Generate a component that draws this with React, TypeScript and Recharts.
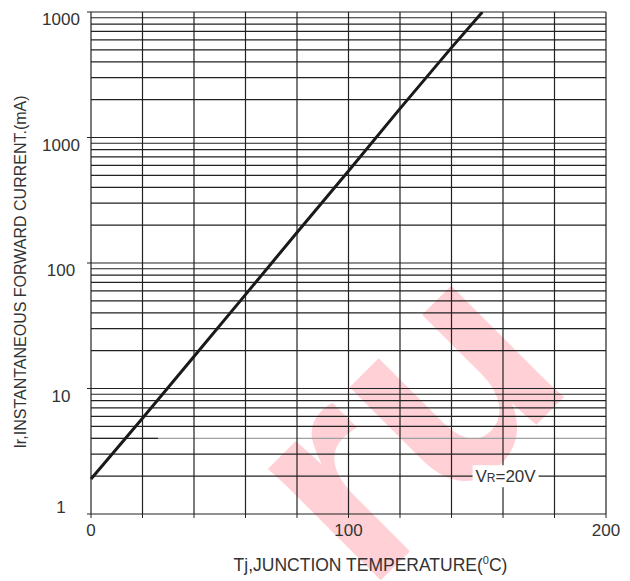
import { LineChart, Line, XAxis, YAxis, ReferenceLine, ReferenceDot } from 'recharts';

// readings along the curve (Tj in °C, Ir in mA)
const temps = [0, 20, 40, 60, 80, 100, 120, 140, 152];
const current = [1.9, 5.8, 18, 56, 175, 540, 1700, 5200, 10000];

const xTicks = [0, 20, 40, 60, 80, 100, 120, 140, 160, 180, 200];
const xTickLabels = ['0', '', '', '', '', '100', '', '', '', '', '200'];
const xGrid = [20, 40, 60, 80, 100, 120, 140, 160, 180];

const yTicks = [1, 10, 100, 1000, 10000];
const yTickLabels = ['1', '10', '100', '1000', '1000'];
const decades = [1, 10, 100, 1000];
const steps = [1, 2, 3, 4, 5, 6, 7, 8, 9];
const yGrid = [...decades.flatMap((d) => steps.map((s) => s * d)), 10000].filter((v) => v > 1);

const vrLevel = 2;
const vrAt = 161;

const data = temps.map((t, i) => ({ t, ir: current[i] }));

const FONT = '"Liberation Sans", Arial, sans-serif';
const TEXT = '#333';
const GRID = '#222';

const XTick = ({ x, y, index }: any) => (
  <text x={x} y={y + 16} textAnchor="middle" fontSize={17} fontFamily={FONT} fill={TEXT}>
    {xTickLabels[index] ?? ''}
  </text>
);

const YTick = ({ y, payload, index }: any) => (
  <text x={61} y={y} dy={payload.value === 1 ? -1 : 13} textAnchor="middle" fontSize={17} fontFamily={FONT} fill={TEXT}>
    {yTickLabels[index]}
  </text>
);

const VrLabel = ({ cx, cy }: any) => (
  <g>
    <rect x={cx - 33} y={cy - 11} width={66} height={22} fill="#fff" />
    <text x={cx} y={cy + 6} textAnchor="middle" fontSize={17} fontFamily={FONT} fill={TEXT}>
      V<tspan fontSize={12}>R</tspan>=20V
    </text>
  </g>
);

export default function App() {
  return (
    <div style={{ position: 'absolute', left: 0, top: 0, width: 630, height: 581, background: '#fff' }}>
      <svg width={630} height={581} style={{ position: 'absolute', left: 0, top: 0 }}>
        <text
          x={472}
          y={489}
          transform="rotate(-45 472 489)"
          textAnchor="middle"
          fontSize={300}
          fontWeight="bold"
          fontFamily={FONT}
          fill="rgb(255,208,213)"
        >
          ru
        </text>
      </svg>
      <div style={{ position: 'absolute', left: 0, top: 0 }}>
        <LineChart width={630} height={581} data={data} margin={{ top: 12, right: 24, bottom: 17, left: 31 }}>
          <XAxis
            dataKey="t"
            type="number"
            domain={[0, 200]}
            ticks={xTicks}
            tick={<XTick />}
            tickSize={4}
            tickLine={{ stroke: GRID }}
            axisLine={{ stroke: GRID, strokeWidth: 1.2 }}
            height={50}
            interval={0}
            label={{
              content: ({ viewBox }: any) => (
                <text x={viewBox.x + viewBox.width / 2 + 22} y={viewBox.y + 57} textAnchor="middle" fontSize={17.5} fontFamily={FONT} fill={TEXT}>
                  Tj,JUNCTION TEMPERATURE(<tspan fontSize={11} dy={-7}>0</tspan><tspan dy={7}>C)</tspan>
                </text>
              ),
            }}
          />
          <YAxis
            type="number"
            scale="log"
            domain={[1, 10000]}
            allowDataOverflow
            ticks={yTicks}
            tick={<YTick />}
            tickSize={4}
            tickLine={{ stroke: GRID }}
            axisLine={{ stroke: GRID, strokeWidth: 1.2 }}
            width={60}
            interval={0}
            label={{
              content: ({ viewBox }: any) => {
                const cx = 20;
                const cy = viewBox.y + viewBox.height / 2 + 9;
                return (
                  <text x={cx} y={cy} transform={`rotate(-90 ${cx} ${cy})`} textAnchor="middle" dominantBaseline="central" fontSize={16} fontFamily={FONT} fill={TEXT}>
                    Ir,INSTANTANEOUS FORWARD CURRENT.(mA)
                  </text>
                );
              },
            }}
          />
          {yGrid.map((v) => (
            <ReferenceLine key={`y${v}`} y={v} stroke={v === 4 ? '#a0a0a0' : GRID} strokeWidth={1.2} />
          ))}
          <ReferenceLine segment={[{ x: 0, y: 4 }, { x: 26, y: 4 }]} stroke={GRID} strokeWidth={1.2} />
          {xGrid.map((v) => (
            <ReferenceLine key={`x${v}`} x={v} stroke={GRID} strokeWidth={1.2} />
          ))}
          <ReferenceLine x={200} stroke={GRID} strokeWidth={1.2} />
          <ReferenceDot x={vrAt} y={vrLevel} r={0} shape={(p: any) => <VrLabel {...p} />} />
          <Line dataKey="ir" type="linear" stroke="#1a1a1a" strokeWidth={3} dot={false} isAnimationActive={false} />
        </LineChart>
      </div>
    </div>
  );
}
